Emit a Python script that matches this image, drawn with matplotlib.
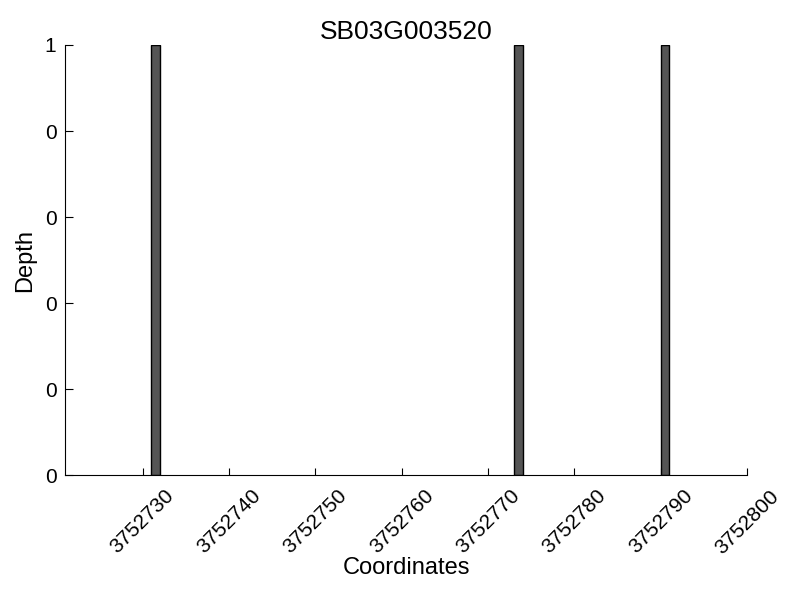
import matplotlib
matplotlib.use("Agg")
import matplotlib.pyplot as plt
from matplotlib.ticker import FormatStrFormatter, MultipleLocator

plt.rcParams['font.family'] = ['Liberation Sans', 'DejaVu Sans']

# read coverage depth per position
positions = [3752731, 3752773, 3752790]
depths = [1, 1, 1]
gene = "SB03G003520"

fig = plt.figure(figsize=(8, 6), dpi=100)
ax = fig.add_axes([0.081, 0.208, 0.853, 0.717])

ax.bar(positions, depths, width=1, align='edge', color='#555555', edgecolor='black', linewidth=1)

ax.set_xlim(3752721, 3752800)
ax.set_ylim(0, 1)
ax.xaxis.set_major_locator(MultipleLocator(10))
ax.yaxis.set_major_locator(MultipleLocator(0.2))
ax.yaxis.set_major_formatter(FormatStrFormatter('%d'))
ax.xaxis.set_major_formatter(FormatStrFormatter('%d'))

for s in ['top', 'right']:
    ax.spines[s].set_visible(False)
ax.tick_params(axis='both', direction='in', labelsize=15)
ax.tick_params(axis='y', length=6, pad=6)
ax.tick_params(axis='x', length=5, pad=8)
plt.setp(ax.get_xticklabels(), rotation=45)

ax.set_title(gene, fontsize=19, pad=4)
ax.set_xlabel("Coordinates", fontsize=17, labelpad=0)
ax.set_ylabel("Depth", fontsize=17, labelpad=6)

fig.savefig("out.png", dpi=100)
